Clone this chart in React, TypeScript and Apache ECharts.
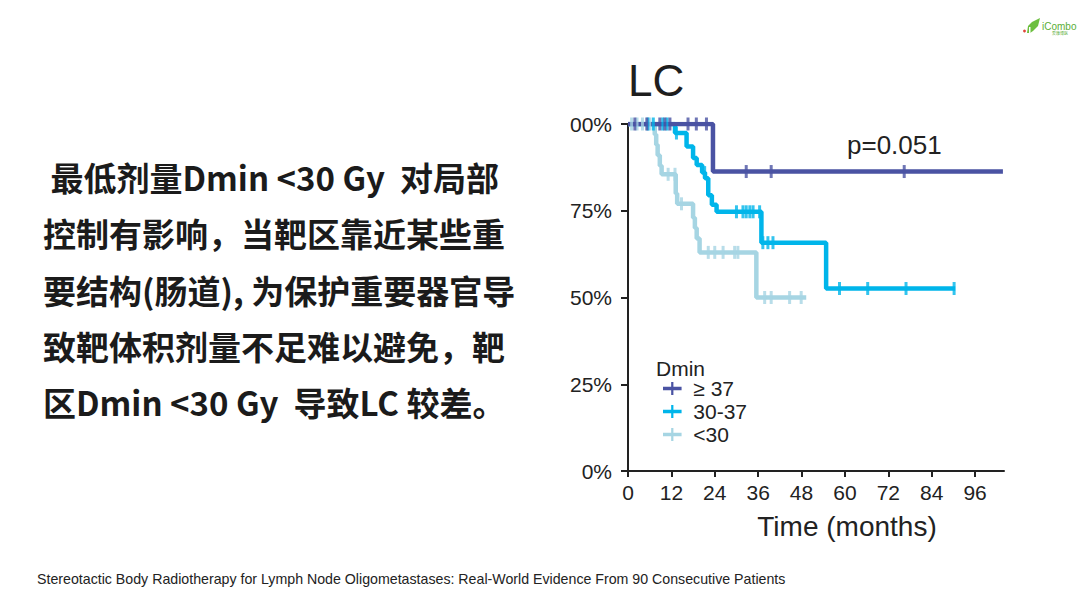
import React, { useEffect, useRef } from "react";
import * as echarts from "echarts";

// ---------- data ----------
const titleText = "LC";
const pValueText = "p=0.051";
const legendTitle = "Dmin";
const xAxisTitle = "Time (months)";
const groupNames = ["≥ 37", "30-37", "<30"];
const groupColors = ["#4a53a3", "#00b5ea", "#a6d5e3"];

// Kaplan–Meier steps: [month, survival %] (value after the step)
const stepsHigh: [number, number][] = [
  [0, 100], [23.5, 86.3], [103.7, 86.3],
];
const censorHigh = [1.9, 5.2, 8.8, 10.2, 11.6, 16.6, 18.9, 21.7, 32.7, 39.6, 76.4];

const stepsMid: [number, number][] = [
  [0, 100], [13, 97.4], [16.2, 93.5], [18, 90.2], [19, 88.2], [20.5, 86],
  [21.3, 84.4], [22.2, 79.5], [23.2, 76.7], [24.5, 74.7], [36.9, 65.8],
  [54.8, 52.6], [90.5, 52.6],
];
const censorMid = [5.5, 7, 9.6, 10.8, 13.4, 21.2, 30, 31.8, 32.7, 33.7, 34.6, 36.4, 37.3, 38.7, 40.1, 58.5, 66.3, 76.9, 90.2];

const stepsLow: [number, number][] = [
  [0, 100], [7.4, 97], [7.8, 94], [8.2, 91], [8.8, 88], [9.3, 85.5],
  [13.2, 80], [13.6, 77], [18, 73], [18.5, 70], [19, 67], [19.8, 63],
  [35.5, 50], [49.3, 50],
];
const censorLow = [1, 2.5, 4, 6, 11.1, 13, 14.8, 22.2, 24, 26.3, 29.5, 30.4, 37.8, 39.6, 44.7, 47.9];

const xTickValues = [0, 12, 24, 36, 48, 60, 72, 84, 96];
const yTickLabels: Record<number, string> = { 0: "0%", 25: "25%", 50: "50%", 75: "75%", 100: "00%" };

const leftLines = [
  " 最低剂量Dmin <30 Gy  对局部",
  "控制有影响，当靶区靠近某些重",
  "要结构(肠道), 为保护重要器官导",
  "致靶体积剂量不足难以避免，靶",
  "区Dmin <30 Gy  导致LC 较差。",
];
const footerText =
  "Stereotactic Body Radiotherapy for Lymph Node Oligometastases: Real-World Evidence From 90 Consecutive Patients";
const logoText = "iCombo";
const logoSubText = "爱康博医";

function survivalAt(steps: [number, number][], t: number): number {
  let v = steps[0][1];
  for (const [x, y] of steps) {
    if (x <= t) v = y;
  }
  return v;
}

const FONT = "'Liberation Sans', Arial, Helvetica, sans-serif";
const CJK = "'Noto Sans CJK SC', sans-serif";

export default function App() {
  const ref = useRef<HTMLDivElement>(null);
  useEffect(() => {
    if (!ref.current) return;
    const chart = echarts.init(ref.current, null, { renderer: "svg" });
    const allSteps = [stepsHigh, stepsMid, stepsLow];
    const allCensor = [censorHigh, censorMid, censorLow];
    const lineZ = [4, 3, 2];
    const lineWidths = [4.5, 4.5, 4.5];
    const lineSeries = allSteps.map((s, i) => ({
      type: "line",
      name: groupNames[i],
      step: "end",
      data: s,
      showSymbol: false,
      symbol: "none",
      lineStyle: { width: lineWidths[i], color: groupColors[i] },
      itemStyle: { color: groupColors[i] },
      z: lineZ[i],
      silent: true,
    }));
    const censorSeries = allCensor.map((c, i) => ({
      type: "scatter",
      name: "censor" + i,
      data: c.map((t) => [t, survivalAt(allSteps[i], t)]),
      symbol: "rect",
      symbolSize: [3, 13],
      itemStyle: { color: groupColors[i] },
      z: 6 - i,
      silent: true,
    }));

    const graphics: any[] = [
      {
        type: "text",
        left: 628,
        top: 58,
        style: { text: titleText, font: `44px ${FONT}`, fill: "#1e1e1e" },
      },
      {
        type: "text",
        x: 847,
        y: 145,
        style: { text: pValueText, font: `26px ${FONT}`, fill: "#222", verticalAlign: "middle" },
      },
      {
        type: "text",
        x: 656,
        y: 368,
        style: { text: legendTitle, font: `21px ${FONT}`, fill: "#222", verticalAlign: "middle" },
      },
      {
        type: "text",
        x: 847,
        y: 526,
        style: { text: xAxisTitle, font: `28px ${FONT}`, fill: "#222", align: "center", verticalAlign: "middle" },
      },
      {
        type: "text",
        x: 37,
        y: 579,
        style: { text: footerText, font: `14.2px ${FONT}`, fill: "#222", verticalAlign: "middle" },
      },
      ...leftLines.map((t, i) => ({
        type: "text",
        x: 43,
        y: 177 + i * 56.3,
        style: { text: t, font: `bold 33px ${CJK}`, fill: "#1b1b1b", verticalAlign: "middle" },
      })),
      // logo
      { type: "circle", shape: { cx: 1024.5, cy: 31, r: 1.4 }, style: { fill: "#e0453a" } },
      {
        type: "polygon",
        shape: { points: [[1027, 33], [1028, 26], [1032, 22], [1040, 18], [1038, 26], [1033, 31], [1030, 33]] },
        style: { fill: "#6cbf3f" },
      },
      { type: "rect", shape: { x: 1029, y: 27, width: 1.5, height: 6 }, style: { fill: "#ffffff" } },
      {
        type: "text",
        x: 1042,
        y: 26,
        style: { text: logoText, font: `10px ${FONT}`, fill: "#5aae36", verticalAlign: "middle" },
      },
      {
        type: "text",
        x: 1052,
        y: 33,
        style: { text: logoSubText, font: `4px ${CJK}`, fill: "#5aae36", verticalAlign: "middle" },
      },
    ];

    chart.setOption({
      animation: false,
      backgroundColor: "#ffffff",
      textStyle: { fontFamily: FONT },
      grid: { left: 628, right: 76, top: 124, bottom: 136, containLabel: false },
      xAxis: {
        type: "value",
        min: 0,
        max: 104,
        interval: 12,
        splitLine: { show: false },
        axisLine: { show: true, lineStyle: { color: "#222", width: 2 } },
        axisTick: { show: true, length: 6, lineStyle: { color: "#222", width: 2 }, customValues: xTickValues },
        axisLabel: { fontSize: 21, color: "#222", margin: 11, customValues: xTickValues },
      },
      yAxis: {
        type: "value",
        min: 0,
        max: 100,
        interval: 25,
        splitLine: { show: false },
        axisLine: { show: true, lineStyle: { color: "#222", width: 2 } },
        axisTick: { show: true, length: 7, lineStyle: { color: "#222", width: 2 } },
        axisLabel: {
          fontSize: 21,
          color: "#222",
          margin: 16,
          formatter: (v: number) => yTickLabels[v] ?? `${v}%`,
        },
      },
      legend: {
        data: groupNames,
        orient: "vertical",
        left: 658,
        top: 373,
        itemWidth: 20,
        itemHeight: 13,
        itemGap: 2,
        icon: "path://M0,5H20V9H0ZM8.8,0H11.2V14H8.8Z",
        textStyle: { fontSize: 21, color: "#222", fontFamily: FONT, padding: [0, 0, 0, 6] },
        selectedMode: false,
      },
      graphic: graphics,
      series: [...lineSeries, ...censorSeries],
    });
    return () => chart.dispose();
  }, []);
  return (
    <div
      ref={ref}
      style={{ position: "absolute", left: 0, top: 0, width: 1080, height: 607, background: "#fff" }}
    />
  );
}
